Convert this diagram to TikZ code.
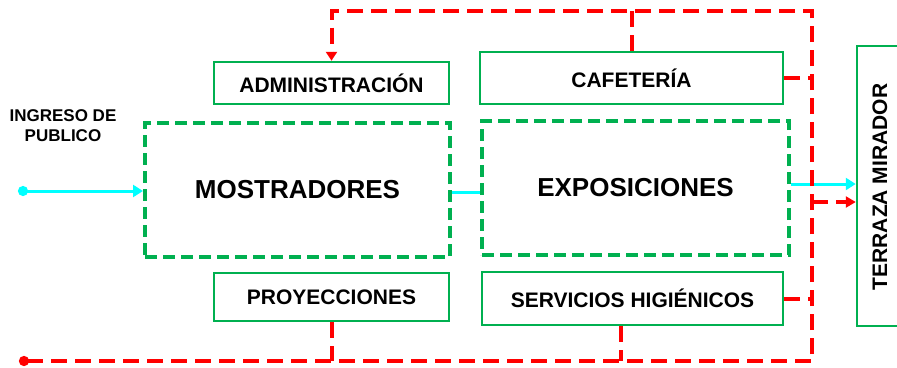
\documentclass[tikz,border=0pt]{standalone}
\usepackage{fontspec}
\setmainfont{Liberation Sans}
\usetikzlibrary{arrows.meta,calc}
\definecolor{rgreen}{HTML}{00B050}
\definecolor{rred}{HTML}{FF0000}
\definecolor{rcyan}{HTML}{00FFFF}
\tikzset{
  solidbox/.style={draw=rgreen, line width=2.5pt, inner sep=0pt, fill=white,
    font=\bfseries\fontsize{21}{25}\selectfont},
  dashbox/.style={draw=rgreen, line width=4pt, dash pattern=on 12pt off 6pt, inner sep=0pt,
    font=\bfseries\fontsize{26}{30}\selectfont},
  redline/.style={draw=rred, line width=4pt, dash pattern=on 16pt off 8pt},
  cyanline/.style={draw=rcyan, line width=3pt},
  tip/.style={-{Triangle[length=10pt,width=11pt]}},
}
\begin{document}
\begin{tikzpicture}[x=1pt,y=-1pt]
\useasboundingbox (0,0) rectangle (897,367);
% bus coordinates
\coordinate (tr) at (812,11);
\coordinate (br) at (812,361);
\coordinate (bl) at (19,361);
\coordinate (cs) at (18,191);
% boxes
\node[solidbox, minimum width=235pt, minimum height=42pt] (admin) at (331.5,83) {ADMINISTRACIÓN};
\node[solidbox, minimum width=303pt, minimum height=52pt] (cafe) at (631.5,78) {CAFETERÍA};
\node[dashbox, minimum width=305pt, minimum height=134pt] (mostr) at (297.5,190) {MOSTRADORES};
\node[dashbox, minimum width=307pt, minimum height=134pt] (expo) at (635.5,188) {EXPOSICIONES};
\node[solidbox, minimum width=235pt, minimum height=48pt] (proy) at (331.5,297) {PROYECCIONES};
\node[solidbox, minimum width=301pt, minimum height=53pt] (serv) at (632.5,298.5) {SERVICIOS HIGIÉNICOS};
\node[solidbox, minimum width=53pt, minimum height=280pt] (terraza) at (883.5,186) {};
\node[rotate=90, font=\bfseries\fontsize{21}{25}\selectfont, inner sep=0pt] (terrazatxt) at (880,187) {TERRAZA MIRADOR};
\node[font=\bfseries\fontsize{17}{20}\selectfont, align=center, inner sep=0pt] (ingreso) at (63,126) {INGRESO DE\\PUBLICO};
% cyan flow
\draw[cyanline, {Circle[length=10pt,width=10pt]}-{Triangle[length=10pt,width=12pt]}] (cs) -- (mostr.west |- cs);
\draw[cyanline] (mostr.east |- 0,192) -- (expo.west |- 0,192);
\draw[cyanline, -{Triangle[length=10pt,width=12pt]}] (expo.east |- 0,184) -- (terraza.west |- 0,184);
% red service bus
\draw[redline, {Circle[length=10pt,width=10pt]}-{Triangle[length=9pt,width=11pt]}] (bl) -- (br) -- (tr) -- (admin.north |- tr) -- (admin.north);
\draw[redline] (cafe.north) -- (cafe.north |- tr);
\draw[redline] (cafe.east) -- (cafe.east -| br);
\draw[redline] (serv.east) -- (serv.east -| br);
\draw[redline] ($(serv.south)+(-12,0)$) -- ($(serv.south |- br)+(-12,0)$);
\draw[redline] (proy.south) -- (proy.south |- br);
\draw[redline, tip] (br |- 0,202) -- (terraza.west |- 0,202);
\end{tikzpicture}
\end{document}
